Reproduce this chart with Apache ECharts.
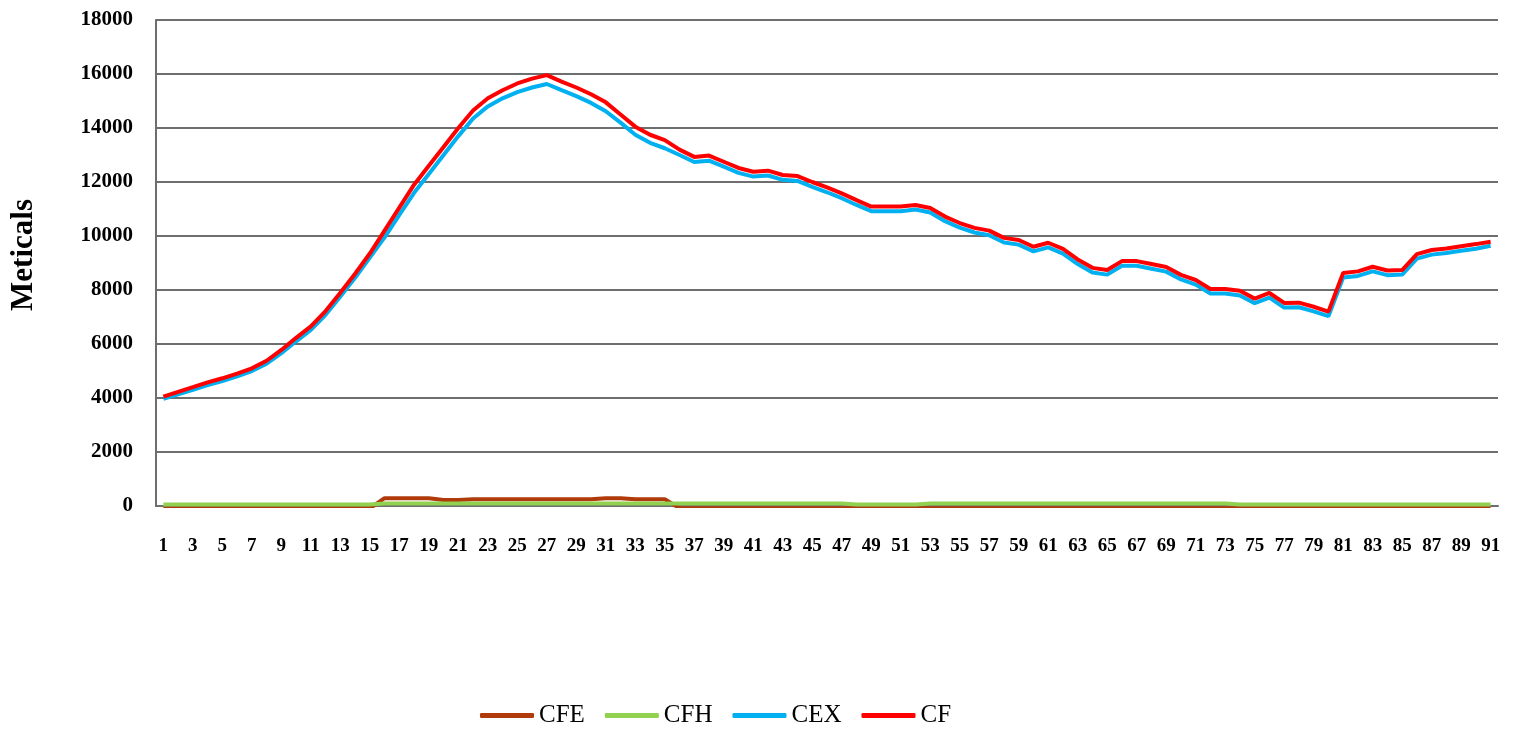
<!DOCTYPE html>
<html>
<head>
<meta charset="utf-8">
<script src="https://cdn.jsdelivr.net/npm/echarts@6/dist/echarts.min.js"></script>
<style>html,body{margin:0;padding:0;background:#fff;}#c{width:1515px;height:729px;}</style>
</head>
<body>
<div id="c"></div>
<script>
const categories = Array.from({length: 91}, (_, i) => String(i + 1));
const yTicks = [0, 2000, 4000, 6000, 8000, 10000, 12000, 14000, 16000, 18000];
const seriesNames = ['CFE', 'CFH', 'CEX', 'CF'];

const CFE = [
  -90,-90,-90,-90,-90,-90,-90,-90,-90,-90,-90,-90,-90,-90,-90,
  290,290,290,290,220,220,250,250,250,250,250,250,250,250,250,
  290,290,250,250,250,
  -80,-80,-80,-80,-80,-80,-80,-80,-80,-80,-80,-80,-80,-80,-80,-80,-80,-80,-80,-80,
  -80,-80,-80,-80,-80,-80,-80,-80,-80,-80,-80,-80,-80,-80,-80,-80,-80,-80,-80,-80,
  -80,-80,-80,-80,-80,-80,-80,-80,-80,-80,-80,-80,-80,-80,-80,-80
];
const CFH = [
  60,60,60,60,60,60,60,60,60,60,60,60,60,60,60,
  90,90,90,90,90,90,90,90,90,90,90,90,90,90,90,90,90,90,90,90,90,90,90,90,90,90,90,90,90,90,90,90,
  55,55,55,55,55,
  90,90,90,90,90,90,90,90,90,90,90,90,90,90,90,90,90,90,90,90,90,
  55,55,55,55,55,55,55,55,55,55,55,55,55,55,55,55,55,55
];
const CEX = [
  3970,4140,4300,4480,4630,4800,5000,5270,5660,6100,6520,7080,7760,8450,9200,
  9950,10780,11600,12300,13000,13700,14350,14800,15100,15330,15500,15630,15400,15180,14930,
  14620,14200,13750,13450,13250,
  13000,12740,12790,12570,12340,12200,12240,12080,12040,11820,11620,11400,11150,10920,10920,
  10920,10980,10870,10550,10310,10130,10030,9760,9680,9430,9580,9350,8960,8650,8570,
  8900,8900,8790,8680,8390,8200,7870,7870,7800,7510,7720,7350,7360,7210,7030,
  8460,8520,8690,8550,8570,9160,9310,9370,9450,9530,9640
];
const CF = [
  4050,4230,4400,4580,4730,4900,5100,5380,5780,6230,
  6650,7220,7900,8600,9350,10200,11050,11900,12600,13300,
  14000,14650,15100,15400,15650,15830,15960,15720,15500,15250,
  14950,14500,14050,13750,13550,13200,12930,12980,12750,12520,
  12380,12420,12260,12220,12000,11800,11580,11330,11090,11090,
  11090,11150,11040,10720,10480,10300,10200,9930,9850,9600,
  9750,9520,9130,8820,8740,9070,9070,8960,8850,8560,
  8370,8040,8040,7970,7680,7890,7520,7530,7380,7200,
  8630,8690,8860,8720,8740,9330,9480,9540,9620,9700,9790
];
const colors = ['#B03A0A', '#92D050', '#00B0F0', '#FF0000'];
const dataSets = [CFE, CFH, CEX, CF];

const chart = echarts.init(document.getElementById('c'));
const serif = '"Liberation Serif", "DejaVu Serif", serif';
chart.setOption({
  animation: false,
  backgroundColor: '#fff',
  grid: {left: 155, right: 17, top: 20, bottom: 223, containLabel: false},
  legend: {
    data: seriesNames,
    left: 475, top: 698,
    icon: 'roundRect',
    itemWidth: 54, itemHeight: 5, itemGap: 20,
    textStyle: {fontFamily: serif, fontSize: 25, color: '#000'}
  },
  xAxis: {
    type: 'category',
    data: categories,
    boundaryGap: true,
    axisLine: {lineStyle: {color: '#6e6e6e', width: 2}},
    axisTick: {show: false},
    axisLabel: {interval: 1, fontFamily: serif, fontWeight: 'bold', fontSize: 19, color: '#000', margin: 31}
  },
  yAxis: {
    type: 'value',
    min: yTicks[0], max: yTicks[yTicks.length - 1], interval: 2000,
    name: 'Meticals',
    nameLocation: 'middle',
    nameGap: 117,
    nameTextStyle: {fontFamily: serif, fontWeight: 'bold', fontSize: 31, color: '#000', padding: [0, 0, 0, 16]},
    axisLine: {show: true, lineStyle: {color: '#6e6e6e', width: 2}},
    axisTick: {show: false},
    splitLine: {lineStyle: {color: '#6e6e6e', width: 2}},
    axisLabel: {fontFamily: serif, fontWeight: 'bold', fontSize: 21, color: '#000', margin: 23,
      formatter: v => String(v)}
  },
  series: seriesNames.map((n, k) => ({
    name: n,
    type: 'line',
    data: dataSets[k],
    showSymbol: false,
    symbol: 'none',
    lineStyle: {color: colors[k], width: 4},
    itemStyle: {color: colors[k]},
    z: 2 + k
  }))
});
</script>
</body>
</html>
